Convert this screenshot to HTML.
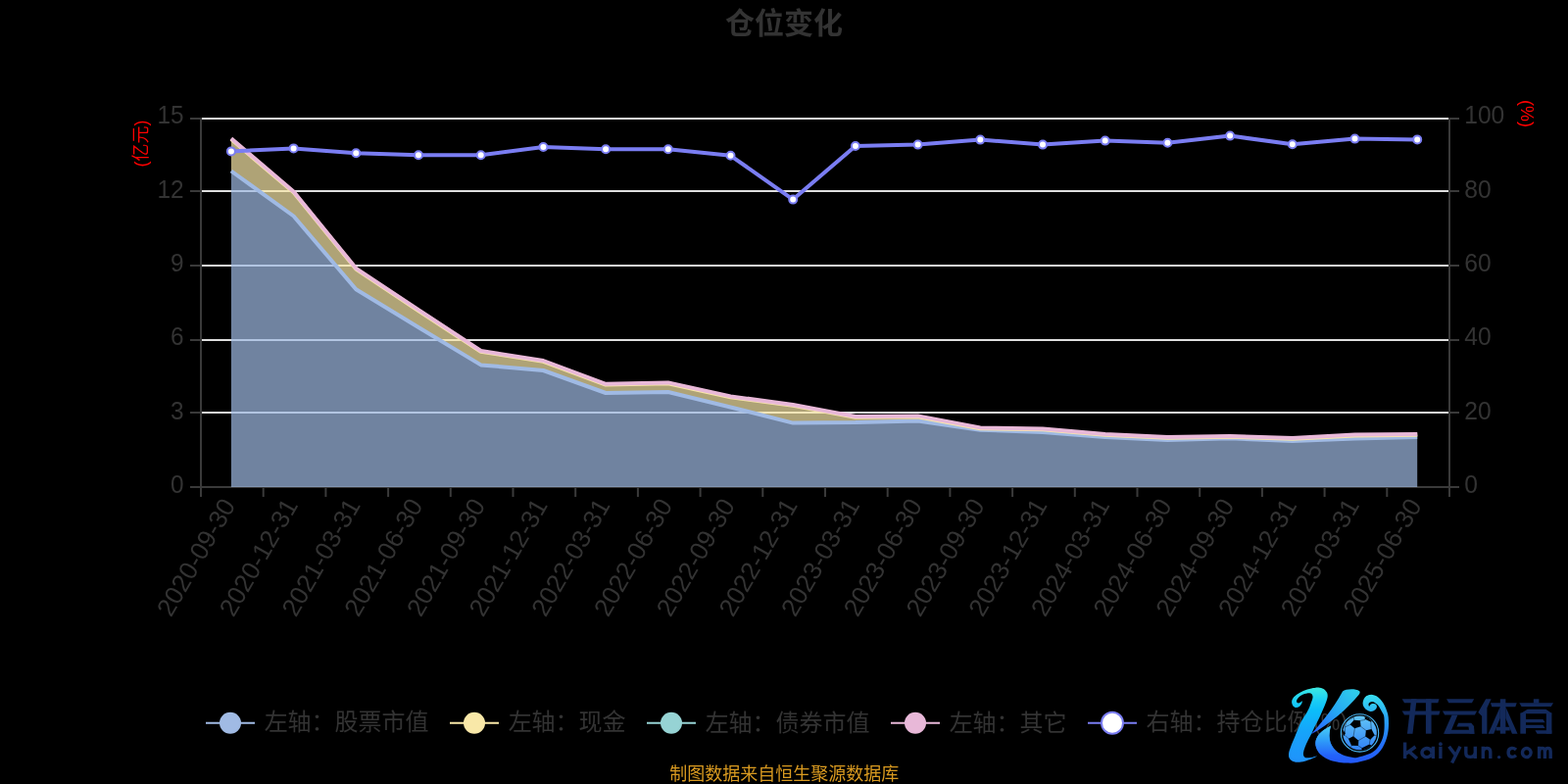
<!DOCTYPE html>
<html lang="zh-CN"><head><meta charset="utf-8"><title>仓位变化</title>
<style>
html,body{margin:0;padding:0;background:#000;}
body{width:1600px;height:800px;overflow:hidden;position:relative;font-family:"Liberation Sans","Noto Sans CJK SC",sans-serif;}
svg{position:absolute;left:0;top:0;display:block;will-change:transform;}
svg text{font-family:"Liberation Sans","Noto Sans CJK SC",sans-serif;}
</style></head><body>
<svg width="1600" height="800" viewBox="0 0 1600 800">
<rect width="1600" height="800" fill="#000"/>
<text x="740.11" y="34.08" font-size="30" font-weight="bold" fill="#333333">仓位变化</text>
<g stroke="#dedede" stroke-width="2">
<line x1="205.0" y1="121" x2="1479.0" y2="121"/>
<line x1="205.0" y1="195" x2="1479.0" y2="195"/>
<line x1="205.0" y1="271" x2="1479.0" y2="271"/>
<line x1="205.0" y1="347" x2="1479.0" y2="347"/>
<line x1="205.0" y1="421" x2="1479.0" y2="421"/>
</g>
<g stroke="#3a3a3a" stroke-width="2" fill="none">
<line x1="205.0" y1="120.0" x2="205.0" y2="498.0"/>
<line x1="1479.0" y1="120.0" x2="1479.0" y2="498.0"/>
<line x1="204.0" y1="497.0" x2="1480.0" y2="497.0"/>
<line x1="194.0" y1="121" x2="205.0" y2="121"/>
<line x1="1479.0" y1="121" x2="1489.0" y2="121"/>
<line x1="194.0" y1="195" x2="205.0" y2="195"/>
<line x1="1479.0" y1="195" x2="1489.0" y2="195"/>
<line x1="194.0" y1="271" x2="205.0" y2="271"/>
<line x1="1479.0" y1="271" x2="1489.0" y2="271"/>
<line x1="194.0" y1="347" x2="205.0" y2="347"/>
<line x1="1479.0" y1="347" x2="1489.0" y2="347"/>
<line x1="194.0" y1="421" x2="205.0" y2="421"/>
<line x1="1479.0" y1="421" x2="1489.0" y2="421"/>
<line x1="194.0" y1="497.0" x2="205.0" y2="497.0"/>
<line x1="1479.0" y1="497.0" x2="1489.0" y2="497.0"/>
<line x1="205.0" y1="497.0" x2="205.0" y2="507.0"/>
<line x1="268.7" y1="497.0" x2="268.7" y2="507.0"/>
<line x1="332.4" y1="497.0" x2="332.4" y2="507.0"/>
<line x1="396.1" y1="497.0" x2="396.1" y2="507.0"/>
<line x1="459.8" y1="497.0" x2="459.8" y2="507.0"/>
<line x1="523.5" y1="497.0" x2="523.5" y2="507.0"/>
<line x1="587.2" y1="497.0" x2="587.2" y2="507.0"/>
<line x1="650.9" y1="497.0" x2="650.9" y2="507.0"/>
<line x1="714.6" y1="497.0" x2="714.6" y2="507.0"/>
<line x1="778.3" y1="497.0" x2="778.3" y2="507.0"/>
<line x1="842.0" y1="497.0" x2="842.0" y2="507.0"/>
<line x1="905.7" y1="497.0" x2="905.7" y2="507.0"/>
<line x1="969.4" y1="497.0" x2="969.4" y2="507.0"/>
<line x1="1033.1" y1="497.0" x2="1033.1" y2="507.0"/>
<line x1="1096.8" y1="497.0" x2="1096.8" y2="507.0"/>
<line x1="1160.5" y1="497.0" x2="1160.5" y2="507.0"/>
<line x1="1224.2" y1="497.0" x2="1224.2" y2="507.0"/>
<line x1="1287.9" y1="497.0" x2="1287.9" y2="507.0"/>
<line x1="1351.6" y1="497.0" x2="1351.6" y2="507.0"/>
<line x1="1415.3" y1="497.0" x2="1415.3" y2="507.0"/>
<line x1="1479.0" y1="497.0" x2="1479.0" y2="507.0"/>
</g>
<g fill="#333333" font-size="26.5">
<text transform="translate(187.5 125.8) scale(0.92 1)" text-anchor="end">15</text>
<text transform="translate(187.5 202.0) scale(0.92 1)" text-anchor="end">12</text>
<text transform="translate(187.5 277.2) scale(0.92 1)" text-anchor="end">9</text>
<text transform="translate(187.5 352.4) scale(0.92 1)" text-anchor="end">6</text>
<text transform="translate(187.5 427.6) scale(0.92 1)" text-anchor="end">3</text>
<text transform="translate(187.5 502.8) scale(0.92 1)" text-anchor="end">0</text>
<text transform="translate(1494.2 125.8) scale(0.93 1)" text-anchor="start">100</text>
<text transform="translate(1494.2 202.0) scale(0.93 1)" text-anchor="start">80</text>
<text transform="translate(1494.2 277.2) scale(0.93 1)" text-anchor="start">60</text>
<text transform="translate(1494.2 352.4) scale(0.93 1)" text-anchor="start">40</text>
<text transform="translate(1494.2 427.6) scale(0.93 1)" text-anchor="start">20</text>
<text transform="translate(1494.2 502.8) scale(0.93 1)" text-anchor="start">0</text>
<text transform="translate(233.3 511.0) rotate(-60)" x="0" y="9" text-anchor="end" font-size="26">2020-09-30</text>
<text transform="translate(297.0 511.0) rotate(-60)" x="0" y="9" text-anchor="end" font-size="26">2020-12-31</text>
<text transform="translate(360.7 511.0) rotate(-60)" x="0" y="9" text-anchor="end" font-size="26">2021-03-31</text>
<text transform="translate(424.4 511.0) rotate(-60)" x="0" y="9" text-anchor="end" font-size="26">2021-06-30</text>
<text transform="translate(488.1 511.0) rotate(-60)" x="0" y="9" text-anchor="end" font-size="26">2021-09-30</text>
<text transform="translate(551.8 511.0) rotate(-60)" x="0" y="9" text-anchor="end" font-size="26">2021-12-31</text>
<text transform="translate(615.5 511.0) rotate(-60)" x="0" y="9" text-anchor="end" font-size="26">2022-03-31</text>
<text transform="translate(679.2 511.0) rotate(-60)" x="0" y="9" text-anchor="end" font-size="26">2022-06-30</text>
<text transform="translate(742.9 511.0) rotate(-60)" x="0" y="9" text-anchor="end" font-size="26">2022-09-30</text>
<text transform="translate(806.6 511.0) rotate(-60)" x="0" y="9" text-anchor="end" font-size="26">2022-12-31</text>
<text transform="translate(870.3 511.0) rotate(-60)" x="0" y="9" text-anchor="end" font-size="26">2023-03-31</text>
<text transform="translate(934.0 511.0) rotate(-60)" x="0" y="9" text-anchor="end" font-size="26">2023-06-30</text>
<text transform="translate(997.7 511.0) rotate(-60)" x="0" y="9" text-anchor="end" font-size="26">2023-09-30</text>
<text transform="translate(1061.4 511.0) rotate(-60)" x="0" y="9" text-anchor="end" font-size="26">2023-12-31</text>
<text transform="translate(1125.1 511.0) rotate(-60)" x="0" y="9" text-anchor="end" font-size="26">2024-03-31</text>
<text transform="translate(1188.8 511.0) rotate(-60)" x="0" y="9" text-anchor="end" font-size="26">2024-06-30</text>
<text transform="translate(1252.5 511.0) rotate(-60)" x="0" y="9" text-anchor="end" font-size="26">2024-09-30</text>
<text transform="translate(1316.2 511.0) rotate(-60)" x="0" y="9" text-anchor="end" font-size="26">2024-12-31</text>
<text transform="translate(1379.9 511.0) rotate(-60)" x="0" y="9" text-anchor="end" font-size="26">2025-03-31</text>
<text transform="translate(1443.6 511.0) rotate(-60)" x="0" y="9" text-anchor="end" font-size="26">2025-06-30</text>
</g>
<text transform="translate(143.30 146.40) rotate(-90)" x="0" y="6.84" text-anchor="middle" font-size="18" fill="#ff0000">(亿元)</text>
<text transform="translate(1558.1 116) rotate(90)" x="0" y="6" text-anchor="middle" font-size="18" fill="#ff0000">(%)</text>
<polygon points="235.9,174.5 299.6,220.5 363.3,295.3 427.0,334.0 490.7,372.4 554.4,378.0 618.1,401.0 681.8,400.0 745.5,415.5 809.2,431.6 872.9,431.0 936.6,429.6 1000.3,438.7 1064.0,440.9 1127.7,446.1 1191.4,449.1 1255.1,447.3 1318.8,450.1 1382.5,447.5 1446.2,446.1 1446.2,497.0 1382.5,497.0 1318.8,497.0 1255.1,497.0 1191.4,497.0 1127.7,497.0 1064.0,497.0 1000.3,497.0 936.6,497.0 872.9,497.0 809.2,497.0 745.5,497.0 681.8,497.0 618.1,497.0 554.4,497.0 490.7,497.0 427.0,497.0 363.3,497.0 299.6,497.0 235.9,497.0" fill="#a0bae4" fill-opacity="0.7"/>
<polygon points="235.9,142.1 299.6,196.3 363.3,274.6 427.0,317.0 490.7,358.8 554.4,368.8 618.1,392.6 681.8,391.2 745.5,405.2 809.2,413.8 872.9,425.8 936.6,425.2 1000.3,437.2 1064.0,438.2 1127.7,443.8 1191.4,446.8 1255.1,445.8 1318.8,447.8 1382.5,444.4 1446.2,443.8 1446.2,446.1 1382.5,447.5 1318.8,450.1 1255.1,447.3 1191.4,449.1 1127.7,446.1 1064.0,440.9 1000.3,438.7 936.6,429.6 872.9,431.0 809.2,431.6 745.5,415.5 681.8,400.0 618.1,401.0 554.4,378.0 490.7,372.4 427.0,334.0 363.3,295.3 299.6,220.5 235.9,174.5" fill="#f9e8a8" fill-opacity="0.7"/>
<polygon points="235.9,141.2 299.6,195.5 363.3,273.8 427.0,316.2 490.7,358.0 554.4,368.0 618.1,391.8 681.8,390.4 745.5,404.4 809.2,413.0 872.9,425.0 936.6,424.4 1000.3,436.4 1064.0,437.4 1127.7,443.0 1191.4,446.0 1255.1,445.0 1318.8,447.0 1382.5,443.6 1446.2,443.0 1446.2,443.8 1382.5,444.4 1318.8,447.8 1255.1,445.8 1191.4,446.8 1127.7,443.8 1064.0,438.2 1000.3,437.2 936.6,425.2 872.9,425.8 809.2,413.8 745.5,405.2 681.8,391.2 618.1,392.6 554.4,368.8 490.7,358.8 427.0,317.0 363.3,274.6 299.6,196.3 235.9,142.1" fill="#e8b8d8" fill-opacity="0.7"/>
<g fill="none" stroke-width="4" stroke-linejoin="bevel">
<polyline points="235.9,174.5 299.6,220.5 363.3,295.3 427.0,334.0 490.7,372.4 554.4,378.0 618.1,401.0 681.8,400.0 745.5,415.5 809.2,431.6 872.9,431.0 936.6,429.6 1000.3,438.7 1064.0,440.9 1127.7,446.1 1191.4,449.1 1255.1,447.3 1318.8,450.1 1382.5,447.5 1446.2,446.1" stroke="#a0bae4"/>
<polyline points="235.9,142.1 299.6,196.3 363.3,274.6 427.0,317.0 490.7,358.8 554.4,368.8 618.1,392.6 681.8,391.2 745.5,405.2 809.2,413.8 872.9,425.8 936.6,425.2 1000.3,437.2 1064.0,438.2 1127.7,443.8 1191.4,446.8 1255.1,445.8 1318.8,447.8 1382.5,444.4 1446.2,443.8" stroke="#f9e8a8"/>
<polyline points="235.9,141.2 299.6,195.5 363.3,273.8 427.0,316.2 490.7,358.0 554.4,368.0 618.1,391.8 681.8,390.4 745.5,404.4 809.2,413.0 872.9,425.0 936.6,424.4 1000.3,436.4 1064.0,437.4 1127.7,443.0 1191.4,446.0 1255.1,445.0 1318.8,447.0 1382.5,443.6 1446.2,443.0" stroke="#e8b8d8"/>
<polyline points="235.9,154.4 299.6,151.4 363.3,156.2 427.0,158.2 490.7,158.2 554.4,150.0 618.1,152.2 681.8,152.2 745.5,158.8 809.2,203.6 872.9,149.0 936.6,147.6 1000.3,142.6 1064.0,147.6 1127.7,143.6 1191.4,145.8 1255.1,138.6 1318.8,147.2 1382.5,141.6 1446.2,142.4" stroke="#7a7df2"/>
</g>
<g fill="#fff" stroke="#7a7df2" stroke-width="2">
<circle cx="235.9" cy="154.4" r="4"/>
<circle cx="299.6" cy="151.4" r="4"/>
<circle cx="363.3" cy="156.2" r="4"/>
<circle cx="427.0" cy="158.2" r="4"/>
<circle cx="490.7" cy="158.2" r="4"/>
<circle cx="554.4" cy="150.0" r="4"/>
<circle cx="618.1" cy="152.2" r="4"/>
<circle cx="681.8" cy="152.2" r="4"/>
<circle cx="745.5" cy="158.8" r="4"/>
<circle cx="809.2" cy="203.6" r="4"/>
<circle cx="872.9" cy="149.0" r="4"/>
<circle cx="936.6" cy="147.6" r="4"/>
<circle cx="1000.3" cy="142.6" r="4"/>
<circle cx="1064.0" cy="147.6" r="4"/>
<circle cx="1127.7" cy="143.6" r="4"/>
<circle cx="1191.4" cy="145.8" r="4"/>
<circle cx="1255.1" cy="138.6" r="4"/>
<circle cx="1318.8" cy="147.2" r="4"/>
<circle cx="1382.5" cy="141.6" r="4"/>
<circle cx="1446.2" cy="142.4" r="4"/>
</g>
<line x1="210" y1="737.8" x2="260" y2="737.8" stroke="#a0bae4" stroke-width="2"/>
<circle cx="235" cy="737.8" r="11" fill="#a0bae4"/>
<text x="269.63" y="745.49" font-size="24" fill="#333333">左轴：股票市值</text>
<line x1="459" y1="737.8" x2="509" y2="737.8" stroke="#f9e8a8" stroke-width="2"/>
<circle cx="484" cy="737.8" r="11" fill="#f9e8a8"/>
<text x="518.63" y="745.49" font-size="24" fill="#333333">左轴：现金</text>
<line x1="660" y1="737.8" x2="710" y2="737.8" stroke="#96d3d4" stroke-width="2"/>
<circle cx="685" cy="737.8" r="11" fill="#96d3d4"/>
<text x="719.63" y="745.52" font-size="24" fill="#333333">左轴：债券市值</text>
<line x1="909" y1="737.8" x2="959" y2="737.8" stroke="#e8b8d8" stroke-width="2"/>
<circle cx="934" cy="737.8" r="11" fill="#e8b8d8"/>
<text x="968.63" y="745.50" font-size="24" fill="#333333">左轴：其它</text>
<line x1="1110" y1="737.8" x2="1160" y2="737.8" stroke="#7a7df2" stroke-width="2"/>
<circle cx="1135" cy="737.8" r="11" fill="#fff" stroke="#7a7df2" stroke-width="2"/>
<text x="1169.56" y="745.42" font-size="24" fill="#333333">右轴：持仓比例</text>
<text transform="translate(1340.5 745.2) scale(0.92 1)" font-size="24" fill="#333333">(%)</text>
<text x="683.25" y="796.17" font-size="18" fill="#d99a20">制图数据来自恒生聚源数据库</text>
<defs>
<linearGradient id="kg" gradientUnits="userSpaceOnUse" x1="0" y1="700" x2="0" y2="778"><stop offset="0" stop-color="#40ecdf"/><stop offset="0.18" stop-color="#1ccff4"/><stop offset="0.32" stop-color="#0cbdfa"/><stop offset="0.6" stop-color="#16a4fa"/><stop offset="1" stop-color="#2092fb"/></linearGradient>
<linearGradient id="ka" gradientUnits="userSpaceOnUse" x1="1385" y1="703" x2="1340" y2="750"><stop offset="0" stop-color="#30d0ea"/><stop offset="0.5" stop-color="#25a6f4"/><stop offset="1" stop-color="#2a5eff"/></linearGradient>
<linearGradient id="ks" gradientUnits="userSpaceOnUse" x1="0" y1="709" x2="0" y2="779"><stop offset="0" stop-color="#38def0"/><stop offset="0.37" stop-color="#28a0f5"/><stop offset="0.73" stop-color="#2470fa"/><stop offset="1" stop-color="#2358fa"/></linearGradient>
<linearGradient id="kl" gradientUnits="userSpaceOnUse" x1="0" y1="740" x2="0" y2="770"><stop offset="0" stop-color="#4cd0f5"/><stop offset="0.5" stop-color="#2f9ff8"/><stop offset="1" stop-color="#2466fa"/></linearGradient>
<linearGradient id="kb" gradientUnits="userSpaceOnUse" x1="0" y1="729" x2="0" y2="767"><stop offset="0" stop-color="#64c8f6"/><stop offset="1" stop-color="#2f7ef6"/></linearGradient>
<clipPath id="klc"><rect x="1338" y="736" width="35" height="34"/></clipPath>
<clipPath id="kbc"><circle cx="1387.5" cy="747.9" r="17.4"/></clipPath>
</defs>
<g>
<path d="M1358.12 740.38C1358.12 740.38 1352.19 743.69 1350.00 745.38C1347.81 747.06 1346.25 748.62 1345.00 750.50C1343.75 752.38 1342.81 754.56 1342.50 756.62C1342.19 758.69 1342.29 760.69 1343.12 762.88C1343.96 765.06 1345.52 767.77 1347.50 769.75C1349.48 771.73 1352.19 773.45 1355.00 774.75C1357.81 776.05 1361.25 776.93 1364.38 777.56C1367.50 778.20 1370.31 778.49 1373.75 778.56C1377.19 778.64 1380.52 778.91 1385.00 778.00C1389.48 777.09 1396.33 775.62 1400.62 773.12C1404.92 770.62 1408.16 767.12 1410.75 763.00C1413.34 758.87 1415.15 753.54 1416.15 748.37C1417.15 743.21 1417.13 736.42 1416.72 732.00C1416.31 727.58 1414.70 724.52 1413.69 721.87C1412.67 719.23 1411.83 717.82 1410.65 716.14C1409.47 714.45 1407.95 712.85 1406.60 711.75C1405.25 710.65 1403.90 710.03 1402.55 709.56C1401.20 709.08 1399.85 708.80 1398.50 708.88C1397.15 708.97 1395.60 709.30 1394.45 710.06C1393.30 710.82 1392.23 712.14 1391.58 713.44C1390.93 714.73 1390.54 716.47 1390.57 717.82C1390.60 719.17 1391.05 720.41 1391.75 721.54C1392.45 722.66 1393.66 723.84 1394.79 724.57C1395.91 725.31 1397.32 725.81 1398.50 725.92C1399.68 726.04 1400.92 725.70 1401.87 725.25C1402.83 724.80 1403.72 723.96 1404.24 723.22C1404.75 722.49 1405.02 721.59 1404.98 720.86C1404.93 720.13 1404.48 719.32 1403.97 718.84C1403.45 718.36 1402.62 718.08 1401.87 717.99C1401.13 717.91 1400.16 718.08 1399.51 718.33C1398.87 718.58 1398.40 719.08 1397.99 719.51C1397.59 719.95 1397.08 720.93 1397.08 720.93C1397.08 720.93 1396.35 719.21 1396.47 718.50C1396.60 717.79 1397.21 717.05 1397.82 716.64C1398.44 716.24 1399.34 716.02 1400.19 716.07C1401.03 716.11 1401.99 716.41 1402.89 716.91C1403.79 717.42 1404.69 718.11 1405.59 719.11C1406.49 720.10 1407.44 721.53 1408.29 722.89C1409.13 724.25 1409.96 725.76 1410.65 727.27C1411.34 728.79 1412.14 728.67 1412.40 732.00C1412.66 735.33 1412.86 742.83 1412.21 747.25C1411.56 751.67 1410.43 755.12 1408.50 758.50C1406.57 761.87 1404.54 765.10 1400.62 767.50C1396.71 769.90 1388.96 772.08 1385.00 772.88C1381.04 773.67 1379.58 772.77 1376.88 772.25C1374.17 771.73 1371.15 770.90 1368.75 769.75C1366.35 768.60 1364.27 767.15 1362.50 765.38C1360.73 763.60 1359.11 761.42 1358.12 759.12C1357.14 756.83 1356.75 753.92 1356.56 751.62C1356.38 749.33 1356.74 747.25 1357.00 745.38C1357.26 743.50 1358.12 740.38 1358.12 740.38Z" fill="url(#ks)"/>
<path d="M1358.12 740.38C1358.12 740.38 1352.19 743.69 1350.00 745.38C1347.81 747.06 1346.25 748.62 1345.00 750.50C1343.75 752.38 1342.81 754.56 1342.50 756.62C1342.19 758.69 1342.29 760.69 1343.12 762.88C1343.96 765.06 1345.52 767.77 1347.50 769.75C1349.48 771.73 1352.19 773.45 1355.00 774.75C1357.81 776.05 1361.25 776.93 1364.38 777.56C1367.50 778.20 1370.31 778.49 1373.75 778.56C1377.19 778.64 1380.52 778.91 1385.00 778.00C1389.48 777.09 1396.33 775.62 1400.62 773.12C1404.92 770.62 1408.16 767.12 1410.75 763.00C1413.34 758.87 1415.15 753.54 1416.15 748.37C1417.15 743.21 1417.13 736.42 1416.72 732.00C1416.31 727.58 1414.70 724.52 1413.69 721.87C1412.67 719.23 1411.83 717.82 1410.65 716.14C1409.47 714.45 1407.95 712.85 1406.60 711.75C1405.25 710.65 1403.90 710.03 1402.55 709.56C1401.20 709.08 1399.85 708.80 1398.50 708.88C1397.15 708.97 1395.60 709.30 1394.45 710.06C1393.30 710.82 1392.23 712.14 1391.58 713.44C1390.93 714.73 1390.54 716.47 1390.57 717.82C1390.60 719.17 1391.05 720.41 1391.75 721.54C1392.45 722.66 1393.66 723.84 1394.79 724.57C1395.91 725.31 1397.32 725.81 1398.50 725.92C1399.68 726.04 1400.92 725.70 1401.87 725.25C1402.83 724.80 1403.72 723.96 1404.24 723.22C1404.75 722.49 1405.02 721.59 1404.98 720.86C1404.93 720.13 1404.48 719.32 1403.97 718.84C1403.45 718.36 1402.62 718.08 1401.87 717.99C1401.13 717.91 1400.16 718.08 1399.51 718.33C1398.87 718.58 1398.40 719.08 1397.99 719.51C1397.59 719.95 1397.08 720.93 1397.08 720.93C1397.08 720.93 1396.35 719.21 1396.47 718.50C1396.60 717.79 1397.21 717.05 1397.82 716.64C1398.44 716.24 1399.34 716.02 1400.19 716.07C1401.03 716.11 1401.99 716.41 1402.89 716.91C1403.79 717.42 1404.69 718.11 1405.59 719.11C1406.49 720.10 1407.44 721.53 1408.29 722.89C1409.13 724.25 1409.96 725.76 1410.65 727.27C1411.34 728.79 1412.14 728.67 1412.40 732.00C1412.66 735.33 1412.86 742.83 1412.21 747.25C1411.56 751.67 1410.43 755.12 1408.50 758.50C1406.57 761.87 1404.54 765.10 1400.62 767.50C1396.71 769.90 1388.96 772.08 1385.00 772.88C1381.04 773.67 1379.58 772.77 1376.88 772.25C1374.17 771.73 1371.15 770.90 1368.75 769.75C1366.35 768.60 1364.27 767.15 1362.50 765.38C1360.73 763.60 1359.11 761.42 1358.12 759.12C1357.14 756.83 1356.75 753.92 1356.56 751.62C1356.38 749.33 1356.74 747.25 1357.00 745.38C1357.26 743.50 1358.12 740.38 1358.12 740.38Z" fill="url(#kl)" clip-path="url(#klc)"/>
<path d="M1329.06 715.06C1329.06 715.06 1328.80 717.01 1328.25 718.00C1327.70 718.99 1326.71 720.34 1325.75 721.00C1324.79 721.66 1323.54 722.04 1322.50 721.94C1321.46 721.83 1320.23 721.26 1319.50 720.38C1318.77 719.49 1318.15 717.96 1318.12 716.62C1318.10 715.29 1318.33 713.81 1319.38 712.38C1320.42 710.94 1322.29 709.35 1324.38 708.00C1326.46 706.65 1329.27 705.24 1331.88 704.25C1334.48 703.26 1337.76 702.53 1340.00 702.06C1342.24 701.59 1343.54 701.28 1345.31 701.44C1347.08 701.59 1349.19 702.14 1350.62 703.00C1352.06 703.86 1353.26 705.34 1353.94 706.62C1354.61 707.91 1354.82 709.02 1354.69 710.69C1354.55 712.35 1353.91 714.39 1353.12 716.62C1352.34 718.86 1351.23 721.31 1350.00 724.12C1348.77 726.94 1347.12 730.69 1345.75 733.50C1344.38 736.31 1342.99 738.58 1341.80 741.00C1340.61 743.42 1339.75 745.67 1338.60 748.00C1337.45 750.33 1336.07 752.58 1334.90 755.00C1333.73 757.42 1332.42 760.33 1331.60 762.50C1330.78 764.67 1330.20 766.50 1330.00 768.00C1329.80 769.50 1329.97 770.63 1330.40 771.50C1330.83 772.37 1331.42 772.95 1332.60 773.20C1333.78 773.45 1335.58 773.33 1337.50 773.00C1339.42 772.67 1344.10 771.20 1344.10 771.20C1344.10 771.20 1341.82 772.75 1340.00 773.60C1338.18 774.45 1335.53 775.62 1333.20 776.30C1330.87 776.98 1328.30 777.60 1326.00 777.70C1323.70 777.80 1321.13 777.58 1319.40 776.90C1317.67 776.22 1316.32 775.00 1315.60 773.60C1314.88 772.20 1314.87 770.40 1315.10 768.50C1315.33 766.60 1315.95 765.02 1317.00 762.20C1318.05 759.38 1319.65 755.83 1321.40 751.60C1323.15 747.37 1325.34 741.17 1327.50 736.80C1329.66 732.43 1332.71 728.53 1334.38 725.38C1336.04 722.22 1336.67 720.04 1337.50 717.88C1338.33 715.71 1339.08 713.78 1339.38 712.38C1339.67 710.97 1339.56 710.23 1339.25 709.44C1338.94 708.65 1338.42 707.97 1337.50 707.62C1336.58 707.28 1335.21 707.16 1333.75 707.38C1332.29 707.59 1330.21 708.21 1328.75 708.94C1327.29 709.67 1325.94 710.78 1325.00 711.75C1324.06 712.72 1323.42 713.94 1323.12 714.75C1322.83 715.56 1322.96 716.16 1323.25 716.62C1323.54 717.09 1324.25 717.56 1324.88 717.56C1325.50 717.56 1326.30 717.04 1327.00 716.62C1327.70 716.21 1329.06 715.06 1329.06 715.06Z" fill="url(#kg)"/>
<path d="M1370 705.5C1373 703 1383 702.3 1387.3 705.3C1388.1 706.5 1387.6 707.8 1386.5 709C1375 723 1358 738 1337.8 749.3C1348 738 1360 724 1370 705.5Z" fill="url(#ka)"/>
<circle cx="1387.5" cy="747.9" r="19.2" fill="none" stroke="#4ab8f6" stroke-width="1.1"/>
<circle cx="1387.5" cy="747.9" r="17.4" fill="url(#kb)"/>
<g clip-path="url(#kbc)">
<g stroke="#02060c" stroke-width="0.5" stroke-opacity="0.8" fill="none">
<line x1="1378.22" y1="739.22" x2="1372.31" y2="742.03"/>
<line x1="1381.87" y1="735.28" x2="1381.31" y2="732.07"/>
<line x1="1387.50" y1="735.56" x2="1392.95" y2="734.44"/>
<line x1="1388.06" y1="740.90" x2="1394.25" y2="745.69"/>
<line x1="1382.44" y1="742.87" x2="1381.03" y2="751.87"/>
<line x1="1399.31" y1="744.56" x2="1398.75" y2="736.46"/>
<line x1="1402.12" y1="750.18" x2="1405.61" y2="750.75"/>
<line x1="1398.18" y1="754.12" x2="1397.34" y2="759.30"/>
<line x1="1393.68" y1="751.31" x2="1385.81" y2="755.81"/>
<line x1="1376.53" y1="754.12" x2="1372.31" y2="750.18"/>
<line x1="1379.34" y1="760.31" x2="1378.39" y2="762.11"/>
<line x1="1385.53" y1="760.59" x2="1389.75" y2="763.35"/>
<line x1="1372.31" y1="742.03" x2="1372.59" y2="748.50"/>
<line x1="1392.95" y1="734.44" x2="1393.12" y2="733.65"/>
<line x1="1372.31" y1="742.03" x2="1374.00" y2="736.12"/>
<line x1="1381.31" y1="732.07" x2="1374.00" y2="736.12"/>
</g>
<polygon fill="#000" points="1377.57,739.27 1381.66,734.86 1387.96,735.18 1388.59,741.16 1382.29,743.37"/>
<polygon fill="#000" points="1393.85,745.27 1399.52,744.01 1402.67,750.31 1398.26,754.72 1393.22,751.57"/>
<polygon fill="#000" points="1375.92,753.83 1380.96,751.31 1386.31,755.72 1385.99,761.08 1379.07,760.76"/>
<polygon fill="#000" points="1392.65,730.62 1395.80,731.63 1399.83,735.66 1399.07,736.80 1392.77,733.65"/>
<polygon fill="#000" points="1370.45,744.13 1372.78,748.54 1371.21,751.19 1369.69,748.54"/>
<polygon fill="#000" points="1389.22,763.41 1397.41,759.38 1400.05,761.01 1394.26,765.17 1389.85,765.17"/>
</g>
</g>
<g fill="#13295a"><title>开云体育</title>
<polygon points="1430.67,713.29 1468.52,713.29 1467.28,717.21 1433.04,717.21"/>
<polygon points="1430.67,725.46 1469.55,725.46 1468.31,729.38 1433.04,729.38"/>
<polygon points="1440.06,713.29 1445.62,713.29 1441.50,748.67 1435.93,748.67"/>
<polygon points="1454.91,713.29 1460.58,713.29 1460.58,748.67 1454.91,748.67"/>
<polygon points="1476.05,713.29 1504.20,713.29 1501.93,717.21 1478.32,717.21"/>
<polygon points="1471.92,725.46 1507.19,725.46 1504.92,729.38 1474.19,729.38"/>
<polygon points="1481.51,729.38 1487.49,729.38 1479.45,748.67 1473.06,748.67"/>
<polygon points="1476.56,744.75 1501.83,744.75 1504.41,748.67 1474.50,748.67"/>
<polygon points="1488.11,737.63 1501.31,737.63 1504.41,741.55 1486.46,741.55"/>
<polygon points="1498.42,740.93 1503.99,740.93 1504.61,748.67 1499.46,748.67"/>
<polygon points="1516.16,713.29 1521.63,713.29 1517.40,722.37 1517.40,748.67 1512.14,748.67 1512.14,730.82 1508.32,727.11"/>
<polygon points="1520.91,717.21 1547.72,717.21 1546.27,721.13 1522.35,721.13"/>
<polygon points="1530.81,713.29 1536.37,713.29 1536.37,748.67 1530.81,748.67"/>
<polygon points="1530.81,721.13 1530.81,732.68 1524.21,748.67 1518.64,748.67"/>
<polygon points="1536.37,721.13 1536.37,732.68 1542.97,748.67 1548.54,748.67"/>
<polygon points="1526.58,741.76 1540.71,741.76 1540.71,745.47 1526.58,745.47"/>
<polygon points="1564.84,713.29 1570.41,713.29 1570.41,717.62 1564.84,717.62"/>
<polygon points="1550.30,717.21 1585.05,717.21 1582.78,720.92 1552.57,720.92"/>
<polygon points="1558.65,723.81 1577.42,723.81 1584.02,728.14 1551.33,728.14"/>
<polygon points="1551.33,727.52 1557.00,727.52 1557.00,748.67 1551.33,748.67"/>
<polygon points="1577.83,727.52 1583.40,727.52 1583.40,748.67 1577.83,748.67"/>
<polygon points="1557.00,733.92 1574.53,733.92 1576.59,737.22 1557.00,737.22"/>
<polygon points="1557.00,739.69 1574.53,739.69 1576.59,742.99 1557.00,742.99"/>
<polygon points="1566.49,745.26 1583.40,745.26 1583.40,748.67 1568.55,748.67"/>
</g>
<g fill="none" stroke="#13295a" stroke-width="3.4" stroke-linejoin="round" stroke-linecap="butt"><title>kaiyun.com</title>
<path d="M1433.6 757.4L1433.6 774.1M1444.4 762.0L1434.6 769.0M1437.6 766.6L1446.0 774.0M1461.0 767.9A5.0 4.5 0 1 0 1461.0 768.1999999999999M1462.4 761.7L1462.4 774.1M1469.9 761.7L1469.9 774.1M1478.6 761.7L1485.2 770.6M1490.0 761.7L1481.6 778.6M1495.8 761.7L1495.8 768.2Q1495.8 772.4 1500.2 772.4Q1504.6 772.4 1505.3 768.0M1505.3 761.7L1505.3 774.1M1513.3 774.1L1513.3 761.7M1513.3 767.4Q1513.6 763.4 1517.3 763.4Q1520.8 763.4 1520.8 767.6L1520.8 774.1M1547.0 765.0Q1545.0 763.1999999999999 1542.6 763.4Q1539.1 764.0 1539.1 767.9Q1539.1 771.8 1542.6 772.4Q1545.0 772.6 1547.0 770.8M1562.1 767.9A4.3 4.5 0 1 0 1562.1 768.1999999999999ZM1570.6 774.1L1570.6 761.7M1570.6 767.2Q1570.9 763.4 1573.8 763.4Q1576.4 763.4 1576.4 767.4L1576.4 774.1M1576.4 767.2Q1576.7 763.4 1579.6 763.4Q1582.2 763.4 1582.2 767.4L1582.2 774.1"/>
</g>
<circle cx="1469.90" cy="759.20" r="1.9" fill="#13295a"/>
<circle cx="1529.60" cy="772.60" r="1.7" fill="#13295a"/>
</svg></body></html>
